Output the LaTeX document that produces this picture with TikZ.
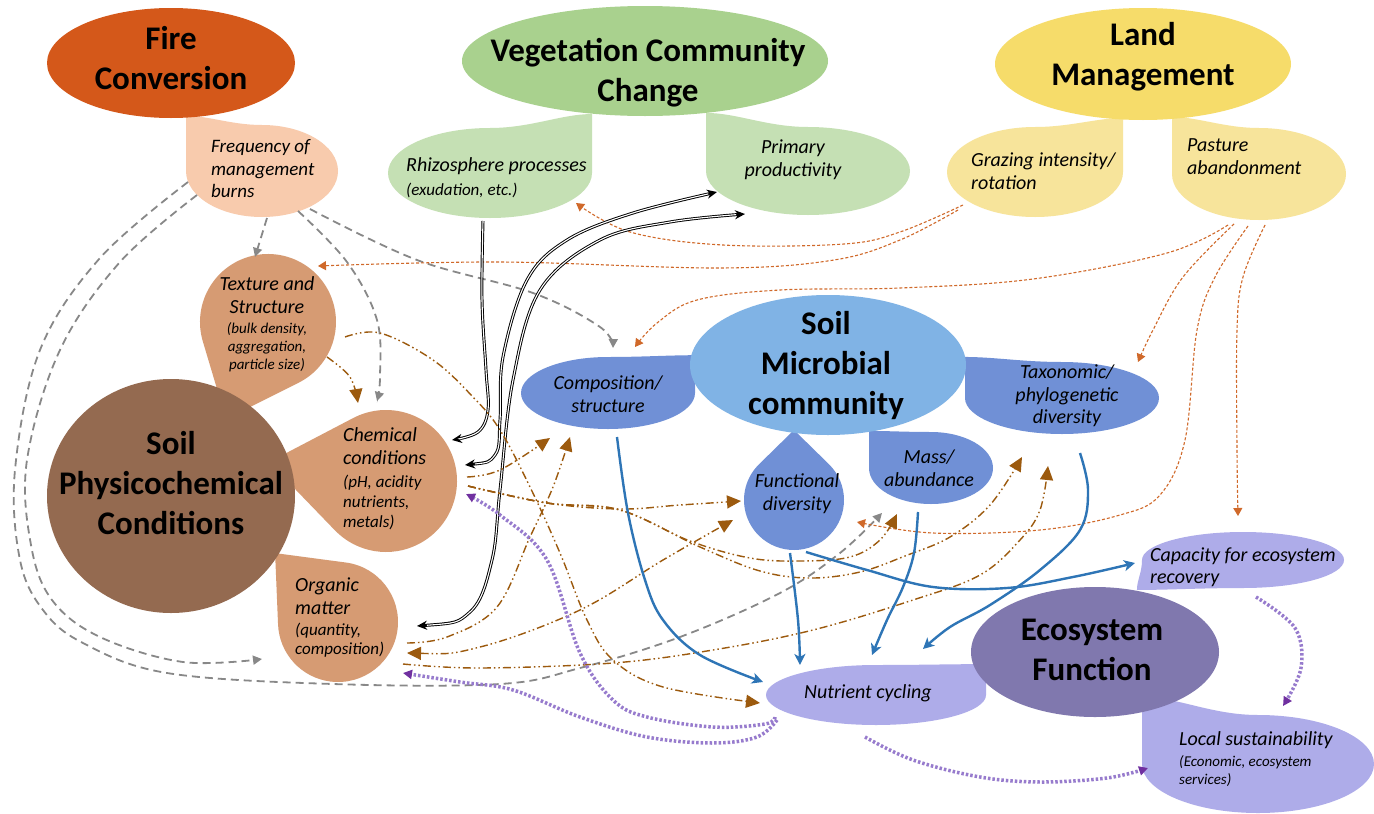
\documentclass[tikz,border=0pt]{standalone}
\usepackage{fontspec}
\setmainfont{Carlito}
\usetikzlibrary{arrows.meta,calc}
\definecolor{fireC}{HTML}{D4581A}
\definecolor{freqC}{HTML}{F8CBAD}
\definecolor{vegC}{HTML}{A9D18E}
\definecolor{vegsubC}{HTML}{C5E0B4}
\definecolor{landC}{HTML}{F6DC6A}
\definecolor{landsubC}{HTML}{F7E49B}
\definecolor{soilC}{HTML}{946A50}
\definecolor{soilsubC}{HTML}{D69B73}
\definecolor{micC}{HTML}{80B3E5}
\definecolor{micsubC}{HTML}{7090D6}
\definecolor{ecoC}{HTML}{8078AE}
\definecolor{ecosubC}{HTML}{AEACE9}
\definecolor{grayL}{HTML}{888888}
\definecolor{orangeL}{HTML}{D0692A}
\definecolor{brownL}{HTML}{9C5A0E}
\definecolor{blueL}{HTML}{2E75B6}
\definecolor{purpleL}{HTML}{977BCD}
\definecolor{purpleA}{HTML}{7030A0}
\newcommand\tdq[7]{\fill[#1, shift={(#2,#3)}, xscale=#4, yscale=#5] (0,-1) arc[start angle=270, end angle=540, radius=1] .. controls (-1,-0.45) and (-#6,{-#7+0.35}) .. (-#6,-#7) .. controls ({-#6+0.3},-#7) and (-0.4,-1) .. (0,-1) -- cycle;}
\newcommand\tdc[7]{\fill[#1] ($(#2,#3)+(#5:#7)$) -- ($(#2,#3)+(#5+#6:#4)$) arc[start angle={#5+#6}, end angle={#5-#6+360}, radius=#4] -- cycle;}
\tikzset{
  gdash/.style={draw=grayL, line width=1.8pt, dash pattern=on 8pt off 5pt, -{Triangle[length=9pt,width=9pt]}},
  odash/.style={draw=orangeL, line width=1.1pt, dash pattern=on 3pt off 2pt, -{Triangle[length=8pt,width=9pt]}},
  bdd/.style={draw=brownL, line width=1.4pt, dash pattern=on 8pt off 3pt on 1.5pt off 3pt on 1.5pt off 3pt, -{Triangle[length=14pt,width=13pt]}},
  bddtwo/.style={bdd, {Triangle[length=14pt,width=13pt]}-{Triangle[length=14pt,width=13pt]}},
  usolid/.style={draw=blueL, line width=2.4pt, -{Stealth[length=11pt,width=11pt,inset=3pt]}},
  pdot/.style={draw=purpleL, line width=3.5pt, dash pattern=on 2.5pt off 2pt, -{Triangle[length=9pt,width=9pt,color=purpleA]}},
  dblout/.style={draw=black, line width=3pt},
  dblin/.style={draw=white, line width=1.1pt, shorten >=10pt},
  title/.style={font=\fontsize{33}{40}\selectfont\bfseries, align=center, inner sep=0pt},
  lab/.style={font=\fontsize{20}{23}\selectfont\itshape, inner sep=0pt},
  sublab/.style={font=\fontsize{15}{18}\selectfont\itshape, inner sep=0pt},
  subbig/.style={font=\fontsize{17}{19.5}\selectfont\itshape, inner sep=0pt},
}
\begin{document}
\begin{tikzpicture}[x=1pt,y=-1pt]
\fill[white] (0,0) rectangle (1374,814);
\useasboundingbox (0,0) rectangle (1374,814);
% ---------- sub shapes ----------
\tdq{freqC}{262}{171}{76}{46}{1}{1.2}
\tdq{vegsubC}{490}{173}{-102}{45}{1}{1.31}
\tdq{vegsubC}{808}{171}{102}{44}{1}{1.32}
\tdq{landsubC}{1035}{172}{-88}{45}{1}{1.2}
\tdq{landsubC}{1259}{174}{87}{46}{1}{1.24}
\tdc{soilsubC}{268}{322}{68}{113.4}{50}{105.7}
\tdc{soilsubC}{386}{481}{71}{189.2}{53.2}{118.5}
\tdc{soilsubC}{338}{622}{60}{227.6}{49.9}{93.3}
\tdq{micsubC}{608}{393}{-87}{36}{1}{1.05}
\tdc{micsubC}{794}{500}{50}{270}{44.4}{70}
\tdq{micsubC}{931}{468}{62}{36}{1}{1.03}
\tdq{micsubC}{1062}{398}{97}{36}{1}{1.14}
\tdq{ecosubC}{1243}{560}{101}{-28}{1.05}{1.07}
\tdq{ecosubC}{876}{695}{-110}{30}{1}{1.03}
\tdq{ecosubC}{1258}{764}{116}{49}{1}{1.37}
% ---------- main shapes ----------
\fill[fireC] (171,63) ellipse [x radius=124, y radius=55];
\fill[vegC] (645,61) ellipse [x radius=183, y radius=55];
\fill[landC] (1143,64) ellipse [x radius=148, y radius=56];
\fill[soilC] (171,496) ellipse [x radius=124, y radius=117];
\fill[micC] (828,365) ellipse [x radius=138, y radius=70];
\fill[ecoC] (1095,652) ellipse [x radius=124, y radius=65];
% ---------- titles ----------
\node[title] (tFire) at (171,58) {Fire\\Conversion};
\node[title] (tVeg) at (648,73) {Vegetation Community\\Change};
\node[title] (tLand) at (1143,57) {Land\\Management};
\node[title] (tSoil) at (171,483) {Soil\\Physicochemical\\Conditions};
\node[title] (tMic) at (826,366) {Soil\\Microbial\\community};
\node[title] (tEco) at (1092,650) {Ecosystem\\Function};
% ---------- labels ----------
\node[lab, font=\fontsize{19}{22.5}\selectfont\itshape, align=left, anchor=west] (lFreq) at (211,169) {Frequency of\\management\\burns};
\node[lab, anchor=west] (lRhizo) at (406,166) {Rhizosphere processes};
\node[subbig, anchor=west] (sRhizo) at (406,190) {(exudation, etc.)};
\node[lab, align=center] (lPrim) at (793,160) {Primary\\productivity};
\node[lab, align=left, anchor=west] (lGraz) at (971,171) {Grazing intensity/\\rotation};
\node[lab, align=left, anchor=west] (lPast) at (1187,157) {Pasture\\abandonment};
\node[lab, align=center] (lTex) at (267,295) {Texture and\\Structure};
\node[sublab, align=center] (sTex) at (267,347) {(bulk density,\\aggregation,\\particle size)};
\node[lab, align=left, anchor=west] (lChem) at (343,446) {Chemical\\conditions};
\node[subbig, font=\fontsize{17}{20}\selectfont\itshape, align=left, anchor=west] (sChem) at (343,502) {(pH, acidity\\nutrients,\\metals)};
\node[lab, align=left, anchor=west] (lOrg) at (295,596) {Organic\\matter};
\node[subbig, font=\fontsize{17}{18.5}\selectfont\itshape, align=left, anchor=west] (sOrg) at (295,640) {(quantity,\\composition)};
\node[lab, align=center] (lComp) at (608,394) {Composition/\\structure};
\node[lab, align=center] (lFunc) at (797,494) {Functional\\diversity};
\node[lab, align=center] (lMass) at (929,468) {Mass/\\abundance};
\node[lab, font=\fontsize{20}{22.5}\selectfont\itshape, align=center] (lTax) at (1067,396) {Taxonomic/\\phylogenetic\\diversity};
\node[lab, font=\fontsize{20}{21.5}\selectfont\itshape, align=left, anchor=west] (lCap) at (1150,567) {Capacity for ecosystem\\recovery};
\node[lab, anchor=west] (lNut) at (804,693) {Nutrient cycling};
\node[lab, anchor=west] (lLoc) at (1179,740) {Local sustainability};
\node[sublab, align=left, anchor=west] (sLoc) at (1179,771) {(Economic, ecosystem\\services)};
% ---------- connector end points ----------
\coordinate (g1s) at (197,195); \coordinate (g1e) at (262,659);
\coordinate (g2s) at (188,182); \coordinate (g2e) at (882,513);
\coordinate (g3s) at (267,218); \coordinate (g3e) at (255,257);
\coordinate (g4s) at (298,211); \coordinate (g4e) at (377,401);
\coordinate (g5s) at (310,209); \coordinate (g5e) at (613,348);
\coordinate (o1s) at (963,205); \coordinate (o1e) at (576,203);
\coordinate (o2s) at (958,210); \coordinate (o2e) at (318,266);
\coordinate (o3s) at (1228,225); \coordinate (o3e) at (635,347);
\coordinate (o4s) at (1234,224); \coordinate (o4e) at (1138,362);
\coordinate (o5s) at (1248,226); \coordinate (o5e) at (857,522);
\coordinate (o6s) at (1265,225); \coordinate (o6e) at (1238,516);
\coordinate (b1s) at (483,221); \coordinate (b1e) at (452,440);
\coordinate (b2s) at (465,465); \coordinate (b2e) at (717,192);
\coordinate (b3s) at (417,626); \coordinate (b3e) at (745,214);
\coordinate (c1s) at (327,357); \coordinate (c1e) at (358,403);
\coordinate (c2s) at (345,337); \coordinate (c2e) at (760,703);
\coordinate (c3s) at (467,477); \coordinate (c3e) at (550,438);
\coordinate (c4s) at (468,486); \coordinate (c4e) at (741,501);
\coordinate (c5s) at (468,486); \coordinate (c5e) at (897,514);
\coordinate (c6s) at (468,486); \coordinate (c6e) at (1022,457);
\coordinate (c7s) at (407,643); \coordinate (c7e) at (570,437);
\coordinate (c8s) at (407,653); \coordinate (c8e) at (733,520);
\coordinate (c9s) at (403,664); \coordinate (c9e) at (1048,466);
\coordinate (u1s) at (617,437); \coordinate (u1e) at (763,682);
\coordinate (u2s) at (790,553); \coordinate (u2e) at (800,665);
\coordinate (u3s) at (806,552); \coordinate (u3e) at (1135,563);
\coordinate (u4s) at (918,512); \coordinate (u4e) at (872,655);
\coordinate (u5s) at (1080,453); \coordinate (u5e) at (923,649);
\coordinate (p1s) at (775,717); \coordinate (p1e) at (466,494);
\coordinate (p2s) at (777,720); \coordinate (p2e) at (403,673);
\coordinate (p3s) at (1256,597); \coordinate (p3e) at (1283,706);
\coordinate (p4s) at (865,737); \coordinate (p4e) at (1148,768);
% ---------- gray dashed ----------
\draw[gdash] plot[smooth, tension=0.6] coordinates {(g1s) (120,262) (60,350) (27,460) (31,545) (52,600) (100,637) (183,662) (g1e)};
\draw[gdash] plot[smooth, tension=0.6] coordinates {(g2s) (100,258) (40,350) (15,470) (20,560) (43,610) (83,643) (167,673) (333,684) (500,684) (580,668) (680,637) (780,593) (840,553) (g2e)};
\draw[gdash] (g3s) -- (g3e);
\draw[gdash] plot[smooth, tension=0.6] coordinates {(g4s) (347,262) (377,320) (380,377) (g4e)};
\draw[gdash] plot[smooth, tension=0.6] coordinates {(g5s) (417,260) (533,293) (600,327) (g5e)};
% ---------- orange dashed ----------
\draw[odash] plot[smooth, tension=0.6] coordinates {(o1s) (900,232) (844,244) (723,245) (630,232) (o1e)};
\draw[odash] plot[smooth, tension=0.6] coordinates {(o2s) (900,240) (834,260) (720,268) (500,262) (o2e)};
\draw[odash] plot[smooth, tension=0.6] coordinates {(o3s) (1167,253) (1033,279) (900,288) (780,290) (697,300) (657,323) (o3e)};
\draw[odash] plot[smooth, tension=0.6] coordinates {(o4s) (1183,277) (1153,330) (o4e)};
\draw[odash] plot[smooth, tension=0.6] coordinates {(o5s) (1215,277) (1197,330) (1185,440) (1160,495) (1120,515) (1040,530) (933,533) (o5e)};
\draw[odash] plot[smooth, tension=0.6] coordinates {(o6s) (1243,277) (1237,330) (1237,450) (o6e)};
% ---------- black double ----------
\draw[dblout, -{Stealth[length=10pt,width=9pt]}] plot[smooth, tension=0.6] coordinates {(b1s) (482,300) (486,370) (488,410) (478,432) (b1e)};
\draw[dblin] plot[smooth, tension=0.6] coordinates {(b1s) (482,300) (486,370) (488,410) (478,432) (b1e)};
\draw[dblout, {Stealth[length=10pt,width=9pt]}-{Stealth[length=10pt,width=9pt]}] plot[smooth, tension=0.6] coordinates {(b2s) (495,455) (500,420) (503,357) (527,280) (567,240) (633,213) (b2e)};
\draw[dblin, shorten <=10pt] plot[smooth, tension=0.6] coordinates {(b2s) (495,455) (500,420) (503,357) (527,280) (567,240) (633,213) (b2e)};
\draw[dblout, {Stealth[length=10pt,width=9pt]}-{Stealth[length=10pt,width=9pt]}] plot[smooth, tension=0.6] coordinates {(b3s) (470,612) (492,560) (500,490) (513,380) (540,290) (600,240) (670,222) (b3e)};
\draw[dblin, shorten <=10pt] plot[smooth, tension=0.6] coordinates {(b3s) (470,612) (492,560) (500,490) (513,380) (540,290) (600,240) (670,222) (b3e)};
% ---------- brown dash-dot ----------
\draw[bdd] plot[smooth, tension=0.6] coordinates {(c1s) (350,377) (c1e)};
\draw[bdd] plot[smooth, tension=0.6] coordinates {(c2s) (380,333) (433,360) (473,397) (500,430) (530,487) (560,553) (587,620) (613,660) (663,687) (c2e)};
\draw[bdd] plot[smooth, tension=0.6] coordinates {(c3s) (500,470) (c3e)};
\draw[bdd] plot[smooth, tension=0.6] coordinates {(c4s) (547,503) (620,509) (680,505) (c4e)};
\draw[bdd] plot[smooth, tension=0.6] coordinates {(c5s) (547,503) (620,510) (690,541) (750,558) (800,561) (850,557) (880,540) (c5e)};
\draw[bdd] plot[smooth, tension=0.6] coordinates {(c6s) (547,503) (620,510) (700,547) (760,571) (810,578) (860,572) (905,556) (950,537) (990,505) (c6e)};
\draw[bdd] plot[smooth, tension=0.6] coordinates {(c7s) (447,637) (497,607) (530,537) (553,487) (c7e)};
\draw[bddtwo] plot[smooth, tension=0.6] coordinates {(c8s) (480,647) (580,610) (663,560) (c8e)};
\draw[bdd] plot[smooth, tension=0.6] coordinates {(c9s) (480,668) (613,663) (713,650) (813,630) (913,600) (980,575) (1020,540) (1040,510) (c9e)};
% ---------- blue ----------
\draw[usolid] plot[smooth, tension=0.6] coordinates {(u1s) (628,513) (645,580) (663,620) (700,655) (u1e)};
\draw[usolid] plot[smooth, tension=0.6] coordinates {(u2s) (798,620) (u2e)};
\draw[usolid] plot[smooth, tension=0.6] coordinates {(u3s) (867,570) (933,587) (1007,588) (1073,577) (u3e)};
\draw[usolid] plot[smooth, tension=0.6] coordinates {(u4s) (914,553) (903,587) (887,620) (u4e)};
\draw[usolid] plot[smooth, tension=0.6] coordinates {(u5s) (1088,490) (1080,530) (1040,570) (990,605) (950,627) (u5e)};
% ---------- purple dotted ----------
\draw[pdot] plot[smooth, tension=0.6] coordinates {(p1s) (765,724) (713,727) (647,717) (613,700) (580,653) (547,560) (500,515) (p1e)};
\draw[pdot] plot[smooth, tension=0.6] coordinates {(p2s) (757,737) (713,743) (647,737) (580,717) (513,690) (460,682) (p2e)};
\draw[pdot] plot[smooth, tension=0.6] coordinates {(p3s) (1295,628) (1301,668) (p3e)};
\draw[pdot] plot[smooth, tension=0.6] coordinates {(p4s) (913,760) (980,777) (1040,782) (1107,778) (p4e)};
\end{tikzpicture}
\end{document}
